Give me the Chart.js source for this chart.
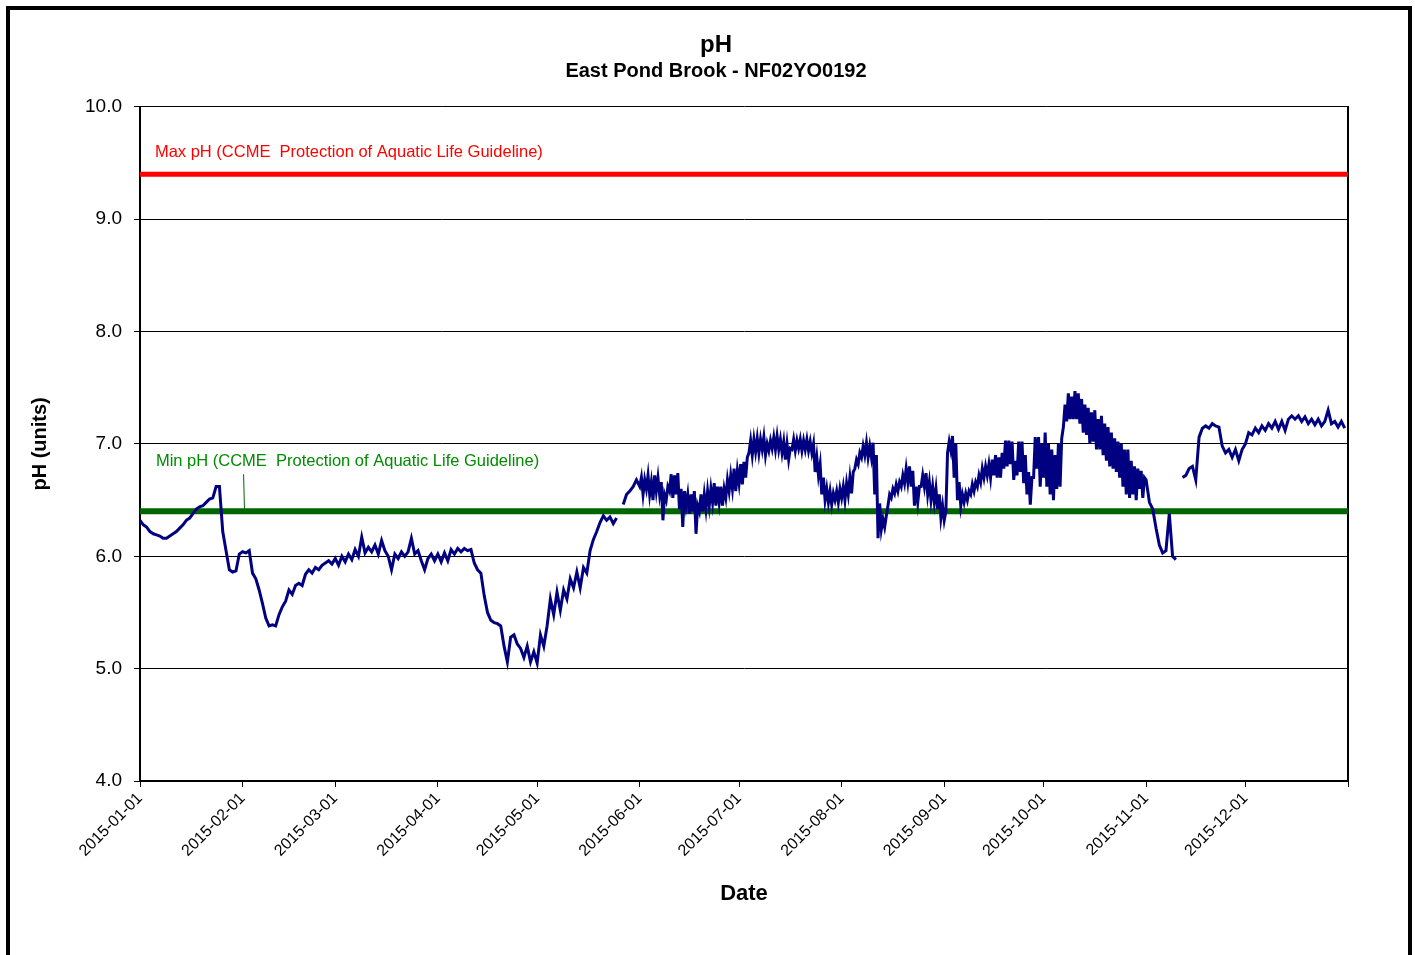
<!DOCTYPE html>
<html lang="en">
<head>
<meta charset="UTF-8">
<title>pH - East Pond Brook</title>
<script src="https://cdn.jsdelivr.net/npm/chart.js"></script>
<style>
  html, body { margin: 0; padding: 0; background: #fff; overflow: hidden; }
  #wrap { position: relative; width: 1415px; height: 955px; }
  #frame { position: absolute; left: 6px; top: 6px; width: 1406px; height: 1000px; box-sizing: border-box; border: 4px solid #000; pointer-events: none; }
  canvas { position: absolute; left: 0; top: 0; }
</style>
</head>
<body>
<div id="wrap">
  <canvas id="phChart" width="1415" height="955"></canvas>
  <div id="frame"></div>
</div>
<script>
// Month starts as day-of-year (2015), last one is 2016-01-01
const monthStartDays = [0, 31, 59, 90, 120, 151, 181, 212, 243, 273, 304, 334, 365];
const monthLabels = ['2015-01-01', '2015-02-01', '2015-03-01', '2015-04-01', '2015-05-01', '2015-06-01',
                     '2015-07-01', '2015-08-01', '2015-09-01', '2015-10-01', '2015-11-01', '2015-12-01', ''];

// pH readings per month (null = no data). Jun-Oct have two readings a day (low, high)
const readingsPerDay = [1, 1, 1, 1, 1, 2, 2, 2, 2, 2, 1, 1];

const phJan = [6.32, 6.28, 6.26, 6.22, 6.20, 6.19, 6.18, 6.16, 6.16, 6.18,
               6.20, 6.22, 6.25, 6.28, 6.32, 6.34, 6.38, 6.42, 6.44, 6.45,
               6.48, 6.51, 6.52, 6.62, 6.62, 6.22, 6.05, 5.88, 5.86, 5.87, 6.02];
const phFeb = [6.04, 6.03, 6.05, 5.85, 5.80, 5.70, 5.58, 5.45, 5.38, 5.39,
               5.38, 5.48, 5.55, 5.60, 5.70, 5.66, 5.74, 5.76, 5.74, 5.84,
               5.88, 5.85, 5.90, 5.88, 5.92, 5.94, 5.96, 5.93];
const phMar = [5.98, 5.92, 6.00, 5.95, 6.02, 5.97, 6.06, 6.00, 6.17, 6.03,
               6.08, 6.04, 6.10, 6.02, 6.14, 6.05, 6.00, 5.88, 6.02, 5.98,
               6.04, 6.00, 6.04, 6.16, 6.02, 6.05, 5.96, 5.88, 5.98, 6.02, 5.96];
const phApr = [6.02, 5.95, 6.03, 5.96, 6.06, 6.02, 6.07, 6.04, 6.07, 6.05,
               6.06, 5.94, 5.88, 5.85, 5.65, 5.50, 5.43, 5.41, 5.40, 5.38,
               5.20, 5.06, 5.28, 5.30, 5.22, 5.18, 5.10, 5.20, 5.06, 5.15];
const phMay = [5.05, 5.30, 5.20, 5.38, 5.62, 5.48, 5.68, 5.52, 5.70, 5.62,
               5.80, 5.72, 5.86, 5.72, 5.90, 5.85, 6.05, 6.15, 6.22, 6.30,
               6.36, 6.32, 6.35, 6.29, 6.34, null, 6.46, 6.55, 6.58, 6.62, 6.68];
const phJun = [6.62, 6.70, 6.55, 6.68, 6.60, 6.72, 6.55, 6.66, 6.50, 6.72,
               6.58, 6.70, 6.55, 6.66, 6.32, 6.55, 6.50, 6.62, 6.58, 6.73,
               6.52, 6.72, 6.55, 6.74, 6.42, 6.60, 6.26, 6.58, 6.45, 6.55,
               6.38, 6.55, 6.40, 6.58, 6.20, 6.45, 6.40, 6.55, 6.40, 6.55,
               6.42, 6.58, 6.45, 6.60, 6.48, 6.65, 6.45, 6.62, 6.48, 6.62,
               6.45, 6.60, 6.52, 6.68, 6.58, 6.72, 6.60, 6.78, 6.58, 6.76];
const phJul = [6.65, 6.82, 6.64, 6.84, 6.70, 6.88, 6.92, 7.03, 6.90, 7.04,
               6.93, 7.05, 6.92, 7.04, 6.95, 7.06, 6.90, 7.00, 6.94, 7.03,
               6.96, 7.06, 6.95, 7.07, 6.95, 7.04, 6.92, 7.02, 6.86, 7.00,
               6.86, 6.96, 6.95, 7.04, 6.94, 7.03, 6.96, 7.04, 6.94, 7.03,
               6.95, 7.04, 6.94, 7.02, 6.92, 7.00, 6.75, 6.88, 6.72, 6.82,
               6.55, 6.70, 6.50, 6.60, 6.48, 6.58, 6.46, 6.56, 6.50, 6.58,
               6.48, 6.60];
const phAug = [6.52, 6.62, 6.50, 6.65, 6.55, 6.70, 6.56, 6.75, 6.78, 6.86,
               6.82, 6.92, 6.88, 6.98, 6.90, 7.01, 6.88, 6.98, 6.88, 7.01,
               6.55, 6.90, 6.16, 6.47, 6.24, 6.33, 6.26, 6.36, 6.45, 6.55,
               6.52, 6.60, 6.56, 6.64, 6.58, 6.66, 6.62, 6.72, 6.65, 6.78,
               6.66, 6.80, 6.62, 6.76, 6.45, 6.62, 6.48, 6.62, 6.62, 6.72,
               6.62, 6.74, 6.55, 6.66, 6.50, 6.62, 6.48, 6.60, 6.42, 6.55,
               6.34, 6.45];
const phSep = [6.32, 6.40, 6.92, 7.02, 6.94, 7.07, 6.70, 7.00, 6.50, 6.66,
               6.45, 6.55, 6.48, 6.56, 6.50, 6.58, 6.55, 6.64, 6.58, 6.66,
               6.62, 6.72, 6.66, 6.78, 6.70, 6.80, 6.72, 6.82, 6.70, 6.86,
               6.72, 6.90, 6.70, 6.88, 6.70, 6.92, 6.78, 7.03, 6.80, 7.03,
               6.82, 7.02, 6.68, 6.85, 6.72, 7.02, 6.75, 7.02, 6.65, 6.90,
               6.55, 6.75, 6.46, 6.70, 6.70, 7.06, 6.78, 7.06, 6.62, 7.00];
const phOct = [6.70, 7.10, 6.62, 7.00, 6.55, 6.95, 6.50, 6.90, 6.60, 7.00,
               6.62, 7.05, 7.15, 7.35, 7.20, 7.45, 7.22, 7.42, 7.22, 7.47,
               7.22, 7.45, 7.18, 7.40, 7.10, 7.35, 7.08, 7.32, 7.00, 7.28,
               7.02, 7.30, 6.95, 7.22, 6.95, 7.25, 6.90, 7.18, 6.85, 7.15,
               6.80, 7.10, 6.78, 7.05, 6.75, 7.02, 6.70, 7.00, 6.62, 6.95,
               6.55, 6.95, 6.52, 6.85, 6.55, 6.80, 6.50, 6.78, 6.60, 6.76,
               6.52, 6.70];
const phNov = [6.68, 6.48, 6.42, 6.25, 6.10, 6.03, 6.05, 6.38, 6.00, 5.97,
               null, 6.70, 6.72, 6.78, 6.80, 6.68, 7.06, 7.14, 7.16, 7.14,
               7.18, 7.16, 7.15, 6.98, 6.92, 6.95, 6.88, 6.95, 6.85, 6.95];
const phDec = [7.00, 7.10, 7.08, 7.14, 7.10, 7.16, 7.12, 7.18, 7.14, 7.20,
               7.13, 7.20, 7.12, 7.22, 7.25, 7.22, 7.25, 7.20, 7.24, 7.18,
               7.22, 7.17, 7.22, 7.16, 7.20, 7.30, 7.18, 7.20, 7.15, 7.20, 7.14];

// CCME guideline limits
const maxPh = 9.4;
const minPh = 6.4;
const maxLabel = 'Max pH (CCME  Protection of Aquatic Life Guideline)';
const minLabel = 'Min pH (CCME  Protection of Aquatic Life Guideline)';

const phMonths = [phJan, phFeb, phMar, phApr, phMay, phJun, phJul, phAug, phSep, phOct, phNov, phDec];
const phPoints = phMonths.flatMap((vals, m) =>
    vals.map((v, i) => ({ x: monthStartDays[m] + i / readingsPerDay[m], y: v })));

const FONT = '"Liberation Sans", Arial, sans-serif';
Chart.defaults.font.family = FONT;
Chart.defaults.color = '#000';

// label placement in data units (day, pH)
const labelAnchors = {
    max: { x: 4.5, y: 9.59 },
    min: { x: 4.8, y: 6.84 },
    leaderFrom: { x: 31.3, y: 6.73 },
    leaderTo: { x: 31.6, y: 6.38 }
};

const guideLabels = {
    id: 'guideLabels',
    afterDatasetsDraw(chart) {
        const { ctx, scales: { x, y } } = chart;
        ctx.save();
        ctx.font = '16.5px ' + FONT;
        ctx.textAlign = 'left';
        ctx.textBaseline = 'middle';
        ctx.fillStyle = '#ff0000';
        ctx.fillText(maxLabel, x.getPixelForValue(labelAnchors.max.x), y.getPixelForValue(labelAnchors.max.y));
        ctx.fillStyle = '#008c00';
        ctx.fillText(minLabel, x.getPixelForValue(labelAnchors.min.x), y.getPixelForValue(labelAnchors.min.y));
        ctx.strokeStyle = '#006600';
        ctx.lineWidth = 1;
        ctx.beginPath();
        ctx.moveTo(x.getPixelForValue(labelAnchors.leaderFrom.x), y.getPixelForValue(labelAnchors.leaderFrom.y));
        ctx.lineTo(x.getPixelForValue(labelAnchors.leaderTo.x), y.getPixelForValue(labelAnchors.leaderTo.y));
        ctx.stroke();
        ctx.restore();
    }
};

new Chart(document.getElementById('phChart'), {
    type: 'line',
    data: {
        datasets: [
            {
                label: 'pH',
                data: phPoints,
                borderColor: '#000080',
                borderWidth: 3,
                pointRadius: 0,
                tension: 0,
                spanGaps: false,
                order: 1
            },
            {
                label: 'Max pH',
                data: [{ x: 0, y: maxPh }, { x: 365, y: maxPh }],
                borderColor: '#ff0000',
                borderWidth: 5,
                pointRadius: 0,
                order: 2
            },
            {
                label: 'Min pH',
                data: [{ x: 0, y: minPh }, { x: 365, y: minPh }],
                borderColor: '#006600',
                borderWidth: 6,
                pointRadius: 0,
                order: 2
            }
        ]
    },
    options: {
        responsive: false,
        animation: false,
        layout: { padding: { left: 28, right: 11, top: 0, bottom: 0 } },
        plugins: {
            legend: { display: false },
            tooltip: { enabled: false },
            title: {
                display: true,
                text: 'pH',
                color: '#000',
                font: { size: 24, weight: 'bold' },
                padding: { top: 31, bottom: 0 }
            },
            subtitle: {
                display: true,
                text: 'East Pond Brook - NF02YO0192',
                color: '#000',
                font: { size: 20, weight: 'bold' },
                padding: { top: 0, bottom: 23 }
            }
        },
        scales: {
            x: {
                type: 'linear',
                min: 0,
                max: 365,
                afterBuildTicks: s => { s.ticks = monthStartDays.map(v => ({ value: v })); },
                afterFit: s => { s.height = 174; },
                ticks: {
                    autoSkip: false,
                    minRotation: 45,
                    maxRotation: 45,
                    padding: 2,
                    color: '#000',
                    font: { size: 16 },
                    callback: v => monthLabels[monthStartDays.indexOf(v)]
                },
                grid: { drawOnChartArea: false, color: '#000', lineWidth: 1, tickLength: 6 },
                border: { color: '#000', width: 2 },
                title: {
                    display: true,
                    text: 'Date',
                    color: '#000',
                    font: { size: 22, weight: 'bold' },
                    padding: { top: 0, bottom: 48 }
                }
            },
            y: {
                min: 4,
                max: 10,
                afterFit: s => { s.width = 112; },
                ticks: {
                    stepSize: 1,
                    padding: 12,
                    color: '#000',
                    font: { size: 19 },
                    callback: v => v.toFixed(1)
                },
                grid: { color: '#000', lineWidth: 1, tickLength: 6 },
                border: { color: '#000', width: 2 },
                title: {
                    display: true,
                    text: 'pH (units)',
                    color: '#000',
                    font: { size: 20, weight: 'bold' },
                    padding: { top: 0, bottom: 0 }
                }
            },
            yRight: {
                position: 'right',
                min: 4,
                max: 10,
                afterFit: s => { s.width = 56; },
                ticks: { display: false },
                grid: { display: false },
                border: { color: '#000', width: 2 }
            }
        }
    },
    plugins: [guideLabels]
});
</script>
</body>
</html>
